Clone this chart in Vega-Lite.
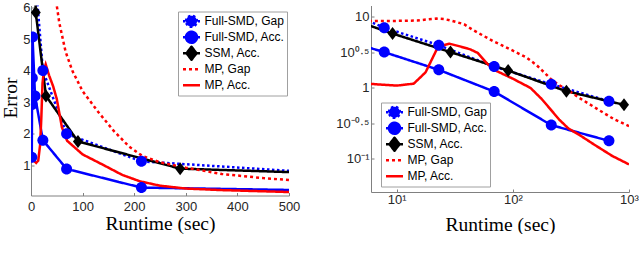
{
  "$schema": "https://vega.github.io/schema/vega-lite/v6.json",
  "background": "white",
  "padding": {"left": 0, "top": 0.5, "right": 0, "bottom": 0},
  "bounds": "flush",
  "spacing": 82,
  "config": {
    "view": {"stroke": null},
    "style": {"guide-title": {"font": "Liberation Serif", "fontWeight": "normal", "fontSize": 19.5, "fill": "black"}},
    "axis": {
      "grid": false,
      "labelFlush": false,
      "labelOverlap": false,
      "labelBound": false,
      "domainColor": "#808080",
      "domainWidth": 1,
      "tickColor": "#808080",
      "tickSize": -3,
      "labelFont": "Liberation Sans",
      "labelFontSize": 13,
      "labelColor": "#262626",
      "titleFont": "Liberation Serif",
      "titleFontSize": 19.5,
      "titleFontWeight": "normal",
      "titleColor": "black"
    },
    "legend": {
      "orient": "none",
      "strokeColor": "#a0a0a0",
      "fillColor": "white",
      "padding": 2,
      "symbolSize": 400,
      "symbolStrokeWidth": 2.5,
      "clipHeight": 15.5,
      "rowPadding": 0,
      "symbolOffset": 0,
      "labelOffset": 1.5,
      "labelFont": "Liberation Sans",
      "labelFontSize": 12,
      "labelColor": "black"
    }
  },
  "datasets": {
    "d": [
      {"s": "Full-SMD, Gap", "t": 3, "v": 13.7},
      {"s": "Full-SMD, Gap", "t": 7.8, "v": 7.07},
      {"s": "Full-SMD, Gap", "t": 23, "v": 4.0},
      {"s": "Full-SMD, Gap", "t": 69, "v": 2.0},
      {"s": "Full-SMD, Gap", "t": 214, "v": 1.13},
      {"s": "Full-SMD, Gap", "t": 672, "v": 0.65},
      {"s": "Full-SMD, Acc.", "t": 1.5, "v": 1.26},
      {"s": "Full-SMD, Acc.", "t": 2, "v": 2.93},
      {"s": "Full-SMD, Acc.", "t": 2.5, "v": 3.77},
      {"s": "Full-SMD, Acc.", "t": 3, "v": 5.06},
      {"s": "Full-SMD, Acc.", "t": 7.8, "v": 3.2},
      {"s": "Full-SMD, Acc.", "t": 23, "v": 1.8},
      {"s": "Full-SMD, Acc.", "t": 69, "v": 0.89},
      {"s": "Full-SMD, Acc.", "t": 214, "v": 0.3},
      {"s": "Full-SMD, Acc.", "t": 672, "v": 0.18},
      {"s": "SSM, Acc.", "t": 3, "v": 11},
      {"s": "SSM, Acc.", "t": 9.2, "v": 5.84},
      {"s": "SSM, Acc.", "t": 29, "v": 3.2},
      {"s": "SSM, Acc.", "t": 91, "v": 1.76},
      {"s": "SSM, Acc.", "t": 289, "v": 0.9},
      {"s": "SSM, Acc.", "t": 906, "v": 0.58},
      {"s": "MP, Gap", "t": 2.5, "v": 8.8},
      {"s": "MP, Gap", "t": 6, "v": 8.8},
      {"s": "MP, Gap", "t": 10, "v": 8.8},
      {"s": "MP, Gap", "t": 15, "v": 8.9},
      {"s": "MP, Gap", "t": 19, "v": 9.3},
      {"s": "MP, Gap", "t": 22, "v": 9.5},
      {"s": "MP, Gap", "t": 26, "v": 9.3},
      {"s": "MP, Gap", "t": 30, "v": 8.8},
      {"s": "MP, Gap", "t": 38, "v": 7.9},
      {"s": "MP, Gap", "t": 45, "v": 6.6},
      {"s": "MP, Gap", "t": 55, "v": 5.5},
      {"s": "MP, Gap", "t": 67, "v": 4.6},
      {"s": "MP, Gap", "t": 80, "v": 4.0},
      {"s": "MP, Gap", "t": 100, "v": 3.35},
      {"s": "MP, Gap", "t": 130, "v": 2.7},
      {"s": "MP, Gap", "t": 160, "v": 2.1},
      {"s": "MP, Gap", "t": 190, "v": 1.6},
      {"s": "MP, Gap", "t": 216, "v": 1.3},
      {"s": "MP, Gap", "t": 250, "v": 1.1},
      {"s": "MP, Gap", "t": 300, "v": 0.93},
      {"s": "MP, Gap", "t": 370, "v": 0.73},
      {"s": "MP, Gap", "t": 450, "v": 0.6},
      {"s": "MP, Gap", "t": 500, "v": 0.54},
      {"s": "MP, Gap", "t": 600, "v": 0.45},
      {"s": "MP, Gap", "t": 750, "v": 0.36},
      {"s": "MP, Gap", "t": 1000, "v": 0.29},
      {"s": "MP, Acc.", "t": 2.5, "v": 1.16},
      {"s": "MP, Acc.", "t": 6, "v": 1.14},
      {"s": "MP, Acc.", "t": 10, "v": 1.08},
      {"s": "MP, Acc.", "t": 14, "v": 1.15},
      {"s": "MP, Acc.", "t": 17.7, "v": 1.66},
      {"s": "MP, Acc.", "t": 20, "v": 2.5},
      {"s": "MP, Acc.", "t": 22.3, "v": 3.6},
      {"s": "MP, Acc.", "t": 25, "v": 4.0},
      {"s": "MP, Acc.", "t": 28.5, "v": 4.2},
      {"s": "MP, Acc.", "t": 35, "v": 3.85},
      {"s": "MP, Acc.", "t": 43, "v": 3.5},
      {"s": "MP, Acc.", "t": 50, "v": 3.1},
      {"s": "MP, Acc.", "t": 60, "v": 2.2},
      {"s": "MP, Acc.", "t": 70, "v": 1.78},
      {"s": "MP, Acc.", "t": 100, "v": 1.35},
      {"s": "MP, Acc.", "t": 142, "v": 1.0},
      {"s": "MP, Acc.", "t": 177, "v": 0.7},
      {"s": "MP, Acc.", "t": 211, "v": 0.5},
      {"s": "MP, Acc.", "t": 250, "v": 0.36},
      {"s": "MP, Acc.", "t": 300, "v": 0.27},
      {"s": "MP, Acc.", "t": 371, "v": 0.22},
      {"s": "MP, Acc.", "t": 500, "v": 0.16},
      {"s": "MP, Acc.", "t": 720, "v": 0.11},
      {"s": "MP, Acc.", "t": 1000, "v": 0.084}
    ]
  },
  "resolve": {"scale": {"color": "independent", "strokeDash": "independent", "shape": "independent", "x": "independent", "y": "independent"}},
  "hconcat": [
    {
      "width": 258,
      "height": 190,
      "data": {"name": "d"},
      "encoding": {
        "x": {"field": "t", "type": "quantitative", "scale": {"domain": [0, 500], "nice": false},
              "axis": {"values": [0, 100, 200, 300, 400, 500], "labelOverlap": false, "labelFlush": false, "title": "Runtime (sec)", "labelPadding": 7.5, "titleY": 19}},
        "y": {"field": "v", "type": "quantitative", "scale": {"domain": [0.05, 6.06], "nice": false, "zero": false},
              "axis": {"values": [1, 2, 3, 4, 5, 6], "labelOverlap": false, "labelFlush": false, "title": "Error", "labelPadding": 4, "titleX": -11, "titleY": 92}},
        "color": {"field": "s", "type": "nominal",
                  "scale": {"domain": ["Full-SMD, Gap", "Full-SMD, Acc.", "SSM, Acc.", "MP, Gap", "MP, Acc."], "range": ["#0000ff", "#0000ff", "#000000", "#ff0000", "#ff0000"]},
                  "legend": {"title": null, "legendX": 147, "legendY": 6,
                    "encode": {"symbols": {"update": {
                      "shape": {"signal": "indexof(datum.value,'MP')==0 ? 'M-0.85,0L0.85,0' : indexof(datum.value,'SSM')==0 ? 'M-0.85,0L0.85,0M0,-0.65L0.5,0L0,0.65L-0.5,0Z' : 'M-0.85,0L0.85,0M-0.55,0A0.55,0.55,0,1,1,0.55,0A0.55,0.55,0,1,1,-0.55,0Z'"},
                      "fill": {"signal": "indexof(datum.value,'MP')==0 ? 'transparent' : indexof(datum.value,'SSM')==0 ? '#000000' : '#0000ff'"},
                      "strokeDash": {"signal": "datum.value=='Full-SMD, Gap' ? [2.5,2.5] : datum.value=='MP, Gap' ? [3,3] : [1,0]"},
                      "fillOpacity": {"value": 1},
                      "opacity": {"value": 1}
                    }}}}}
      },
      "layer": [
        {
          "mark": {"type": "line", "strokeWidth": 2.5, "clip": true},
          "encoding": {
            "strokeDash": {"field": "s", "type": "nominal",
                           "scale": {"domain": ["Full-SMD, Gap", "Full-SMD, Acc.", "SSM, Acc.", "MP, Gap", "MP, Acc."], "range": [[2.5, 2.5], [1, 0], [1, 0], [3, 3], [1, 0]]},
                           "legend": null}
          }
        },
        {
          "transform": [{"filter": "indexof(datum.s,'MP')!=0"}],
          "mark": {"type": "point", "filled": true, "opacity": 1, "size": 100, "clip": true},
          "encoding": {
            "shape": {"field": "s", "type": "nominal",
                      "scale": {"domain": ["Full-SMD, Gap", "Full-SMD, Acc.", "SSM, Acc."], "range": ["M-1.1,0A1.1,1.1,0,1,1,1.1,0A1.1,1.1,0,1,1,-1.1,0Z", "M-1.1,0A1.1,1.1,0,1,1,1.1,0A1.1,1.1,0,1,1,-1.1,0Z", "M0,-1.3L1,0L0,1.3L-1,0Z"]},
                      "legend": null}
          }
        }
      ]
    },
    {
      "width": 258,
      "height": 186.5,
      "data": {"name": "d"},
      "encoding": {
        "x": {"field": "t", "type": "quantitative", "scale": {"type": "log", "domain": [6, 1000], "nice": false},
              "axis": {"values": [10, 100, 1000], "labelOverlap": false, "labelFlush": false, "labelExpr": "datum.value < 50 ? '10¹' : datum.value < 500 ? '10²' : '10³'", "title": "Runtime (sec)", "labelPadding": 4, "titleY": 23}},
        "y": {"field": "v", "type": "quantitative", "scale": {"type": "log", "domain": [0.0343, 14.5], "nice": false},
              "axis": {"values": [0.1, 0.31622776601683794, 1, 3.1622776601683795, 10], "labelOverlap": false, "labelFlush": false, "labelExpr": "datum.value > 5 ? '10' : datum.value > 2 ? '10⁰·⁵' : datum.value > 0.5 ? '1' : datum.value > 0.2 ? '10⁻⁰·⁵' : '10⁻¹'", "title": null, "labelPadding": 5}},
        "color": {"field": "s", "type": "nominal",
                  "scale": {"domain": ["Full-SMD, Gap", "Full-SMD, Acc.", "SSM, Acc.", "MP, Gap", "MP, Acc."], "range": ["#0000ff", "#0000ff", "#000000", "#ff0000", "#ff0000"]},
                  "legend": {"title": null, "legendX": 10, "legendY": 97,
                    "encode": {"symbols": {"update": {
                      "shape": {"signal": "indexof(datum.value,'MP')==0 ? 'M-0.85,0L0.85,0' : indexof(datum.value,'SSM')==0 ? 'M-0.85,0L0.85,0M0,-0.65L0.5,0L0,0.65L-0.5,0Z' : 'M-0.85,0L0.85,0M-0.55,0A0.55,0.55,0,1,1,0.55,0A0.55,0.55,0,1,1,-0.55,0Z'"},
                      "fill": {"signal": "indexof(datum.value,'MP')==0 ? 'transparent' : indexof(datum.value,'SSM')==0 ? '#000000' : '#0000ff'"},
                      "strokeDash": {"signal": "datum.value=='Full-SMD, Gap' ? [2.5,2.5] : datum.value=='MP, Gap' ? [3,3] : [1,0]"},
                      "fillOpacity": {"value": 1},
                      "opacity": {"value": 1}
                    }}}}}
      },
      "layer": [
        {
          "mark": {"type": "line", "strokeWidth": 2.5, "clip": true},
          "encoding": {
            "strokeDash": {"field": "s", "type": "nominal",
                           "scale": {"domain": ["Full-SMD, Gap", "Full-SMD, Acc.", "SSM, Acc.", "MP, Gap", "MP, Acc."], "range": [[2.5, 2.5], [1, 0], [1, 0], [3, 3], [1, 0]]},
                           "legend": null}
          }
        },
        {
          "transform": [{"filter": "indexof(datum.s,'MP')!=0"}],
          "mark": {"type": "point", "filled": true, "opacity": 1, "size": 100, "clip": true},
          "encoding": {
            "shape": {"field": "s", "type": "nominal",
                      "scale": {"domain": ["Full-SMD, Gap", "Full-SMD, Acc.", "SSM, Acc."], "range": ["M-1.1,0A1.1,1.1,0,1,1,1.1,0A1.1,1.1,0,1,1,-1.1,0Z", "M-1.1,0A1.1,1.1,0,1,1,1.1,0A1.1,1.1,0,1,1,-1.1,0Z", "M0,-1.3L1,0L0,1.3L-1,0Z"]},
                      "legend": null}
          }
        }
      ]
    }
  ]
}
